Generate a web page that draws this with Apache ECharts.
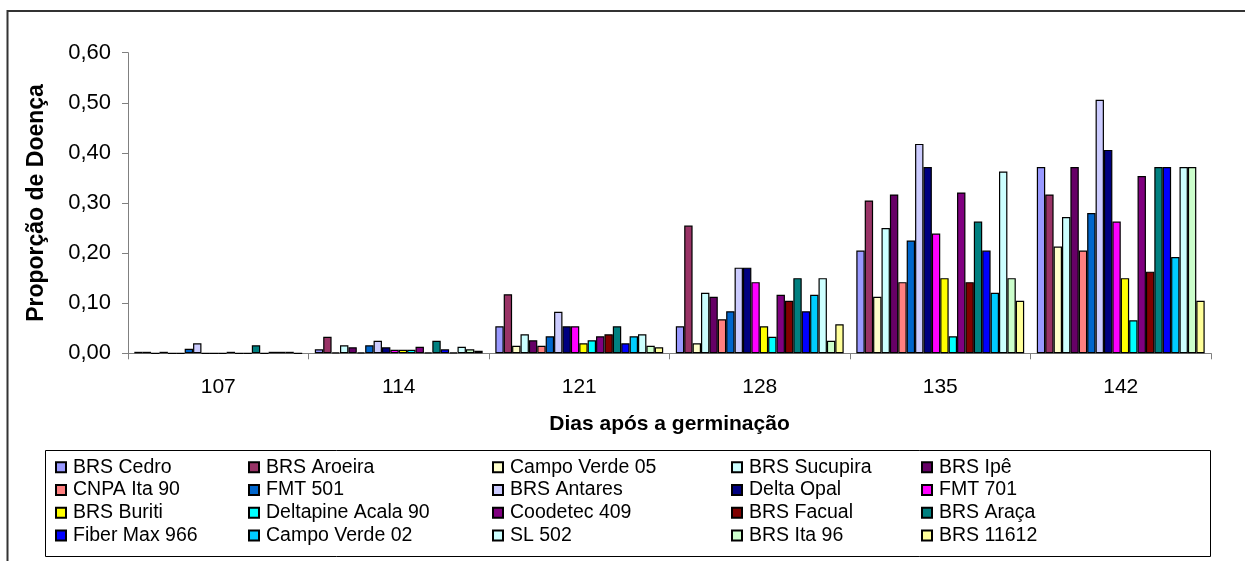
<!DOCTYPE html>
<html>
<head>
<meta charset="utf-8">
<title>Proporção de Doença</title>
<script src="https://cdn.jsdelivr.net/npm/echarts@6/dist/echarts.min.js"></script>
<style>
  html, body { margin: 0; padding: 0; background: #fff; }
  #chart { width: 1245px; height: 561px; }
</style>
</head>
<body>
<div id="chart"></div>
<script>
// dias apos a germinacao
var days = ["107", "114", "121", "128", "135", "142"];

var cultivars = [
  "BRS Cedro", "BRS Aroeira", "Campo Verde 05", "BRS Sucupira", "BRS Ipê",
  "CNPA Ita 90", "FMT 501", "BRS Antares", "Delta Opal", "FMT 701",
  "BRS Buriti", "Deltapine Acala 90", "Coodetec 409", "BRS Facual", "BRS Araça",
  "Fiber Max 966", "Campo Verde 02", "SL 502", "BRS Ita 96", "BRS 11612"
];

// one array per day, same order as cultivars
var d107 = [0.003, 0.003, 0, 0.003, 0, 0, 0.009, 0.020, 0, 0, 0, 0.003, 0, 0, 0.016, 0, 0.003, 0.003, 0.003, 0];
var d114 = [0.008, 0.033, 0.002, 0.016, 0.012, 0.002, 0.016, 0.025, 0.012, 0.007, 0.007, 0.007, 0.013, 0.002, 0.025, 0.008, 0.002, 0.013, 0.008, 0.005];
var d121 = [0.054, 0.118, 0.015, 0.038, 0.026, 0.015, 0.034, 0.083, 0.054, 0.054, 0.020, 0.026, 0.034, 0.038, 0.054, 0.020, 0.034, 0.038, 0.015, 0.012];
var d128 = [0.054, 0.255, 0.020, 0.121, 0.113, 0.068, 0.084, 0.171, 0.171, 0.142, 0.054, 0.033, 0.117, 0.105, 0.150, 0.084, 0.117, 0.150, 0.025, 0.058];
var d135 = [0.205, 0.305, 0.113, 0.250, 0.317, 0.142, 0.225, 0.418, 0.372, 0.239, 0.150, 0.034, 0.321, 0.142, 0.263, 0.205, 0.121, 0.363, 0.150, 0.105];
var d142 = [0.372, 0.317, 0.213, 0.272, 0.372, 0.205, 0.280, 0.506, 0.406, 0.263, 0.150, 0.066, 0.354, 0.163, 0.372, 0.372, 0.192, 0.372, 0.372, 0.105];

var yTicks = [0, 0.1, 0.2, 0.3, 0.4, 0.5, 0.6];

var byDay = [d107, d114, d121, d128, d135, d142];

// paleta padrao do excel
var colorList = [
  "#9999FF", "#993366", "#FFFFCC", "#CCFFFF", "#660066",
  "#FF8080", "#0066CC", "#CCCCFF", "#000080", "#FF00FF",
  "#FFFF00", "#00FFFF", "#800080", "#800000", "#008080",
  "#0000FF", "#00CCFF", "#CCFFFF", "#CCFFCC", "#FFFF99"
];

var font = "'Liberation Sans', Arial, sans-serif";

var series = cultivars.map(function (name, i) {
  return {
    name: name,
    type: "bar",
    barGap: 0,
    barCategoryGap: "7%",
    animation: false,
    itemStyle: {
      color: colorList[i],
      borderColor: "#000",
      borderWidth: 1.2
    },
    data: byDay.map(function (d) { return d[i]; })
  };
});

// legenda: 5 colunas x 4 linhas
var legendLeft = [50, 243, 487, 726, 916];
var legends = legendLeft.map(function (x, c) {
  return {
    orient: "vertical",
    left: x,
    top: 451,
    itemWidth: 10,
    itemHeight: 10,
    itemGap: 0,
    icon: "rect",
    selectedMode: false,
    data: [cultivars[c], cultivars[c + 5], cultivars[c + 10], cultivars[c + 15]],
    textStyle: {
      fontFamily: font,
      fontSize: 19.5,
      color: "#000",
      lineHeight: 22.7,
      padding: [0, 0, 0, 2]
    }
  };
});

var chart = echarts.init(document.getElementById("chart"));
var option = {
  backgroundColor: "#fff",
  color: colorList,
  grid: {
    left: 128,
    right: 34,
    top: 52.7,
    bottom: 207.7
  },
  legend: legends,
  xAxis: {
    type: "category",
    data: days,
    name: "Dias após a germinação",
    nameLocation: "middle",
    nameGap: 60,
    nameTextStyle: {
      fontFamily: font,
      fontSize: 21,
      fontWeight: "bold",
      color: "#000",
      letterSpacing: 1
    },
    axisLine: { lineStyle: { color: "#808080", width: 1 } },
    axisTick: { show: true, length: 6, lineStyle: { color: "#808080" } },
    axisLabel: {
      fontFamily: font,
      fontSize: 21,
      color: "#000",
      margin: 23
    }
  },
  yAxis: {
    type: "value",
    min: 0,
    max: 0.6,
    interval: 0.1,
    name: "Proporção de Doença",
    nameLocation: "middle",
    nameGap: 80,
    nameRotate: 90,
    nameTextStyle: {
      fontFamily: font,
      fontSize: 23,
      fontWeight: "bold",
      color: "#000"
    },
    splitLine: { show: false },
    axisLine: { show: true, lineStyle: { color: "#808080", width: 1 } },
    axisTick: { show: true, length: 6, lineStyle: { color: "#808080" } },
    axisLabel: {
      fontFamily: font,
      fontSize: 22,
      color: "#000",
      margin: 17,
      formatter: function (v) {
        return yTicks.indexOf(Math.round(v * 10) / 10) >= 0 ? v.toFixed(2).replace(".", ",") : "";
      }
    }
  },
  graphic: [
    {
      // moldura externa
      type: "rect",
      silent: true,
      shape: { x: 7.5, y: 11, width: 1400, height: 700 },
      style: { fill: "none", stroke: "#333", lineWidth: 2 }
    },
    {
      // caixa da legenda
      type: "rect",
      silent: true,
      shape: { x: 45.5, y: 450.5, width: 1165, height: 106 },
      style: { fill: "none", stroke: "#000", lineWidth: 1 }
    }
  ],
  series: series
};
chart.setOption(option);
</script>
</body>
</html>
